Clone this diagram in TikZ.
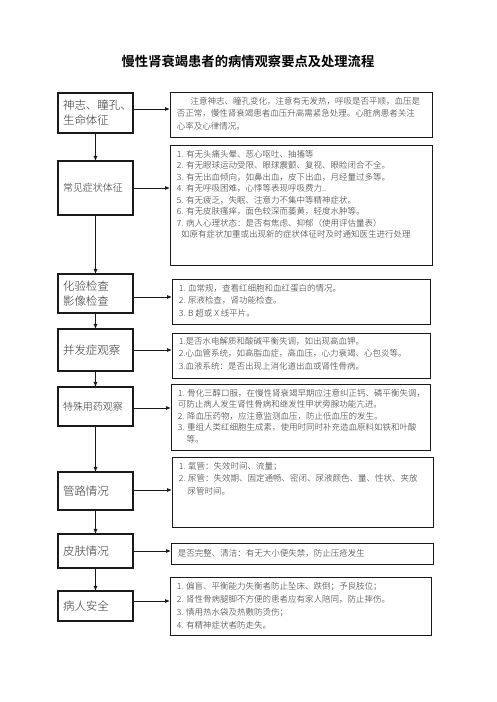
\documentclass[tikz,border=0pt]{standalone}
\usepackage{fontspec}
\setmainfont{Noto Sans CJK SC}[UprightFont=* Light, BoldFont=* Bold]
\usetikzlibrary{arrows.meta}
\definecolor{cline}{HTML}{1A1A1A}
\definecolor{ctext}{HTML}{333333}
\tikzset{
  every picture/.style={line width=0.8pt},
  stage/.style={draw=cline, line width=1.1pt, minimum width=75pt, text width=65pt, inner xsep=5pt, align=left, text=ctext, font=\fontsize{11.5}{15}\selectfont},
  detail/.style={draw=cline, line width=0.9pt},
  detailtext/.style={anchor=north west, inner sep=2pt, align=left, text=ctext, font=\fontsize{8.5}{12.5}\selectfont},
  arrow/.style={-{Triangle[length=4.5pt, width=3.5pt]}, draw=cline, line width=0.9pt},
  title/.style={font=\fontsize{13.3}{16}\selectfont\bfseries},
}

\begin{document}
\begin{tikzpicture}[x=1pt, y=-1pt]
  \useasboundingbox (0,0) rectangle (496,702);
  \node[title] (title) at (248,61) {慢性肾衰竭患者的病情观察要点及处理流程};
  % left column: observation items
  \node[stage, minimum height=40pt] (l1) at (95.5,113) {神志、瞳孔、\\生命体征};
  \node[stage, minimum height=54pt, font=\fontsize{10}{12}\selectfont] (l2) at (95.5,188) {常见症状体征};
  \node[stage, minimum height=39pt] (l3) at (95.5,293.5) {化验检查\\影像检查};
  \node[stage, minimum height=42pt] (l4) at (95.5,350) {并发症观察};
  \node[stage, minimum height=39pt, font=\fontsize{10}{12}\selectfont] (l5) at (95.5,406.5) {特殊用药观察};
  \node[stage, minimum height=38pt] (l6) at (95.5,491) {管路情况};
  \node[stage, minimum height=34pt] (l7) at (95.5,551) {皮肤情况};
  \node[stage, minimum height=30pt] (l8) at (95.5,606) {病人安全};
  % right column: what to watch
  \node[detail, minimum width=262pt, minimum height=45pt] (r1) at (301,114.5) {};
  \node[detail, minimum width=262pt, minimum height=120pt] (r2) at (301,205) {};
  \node[detail, minimum width=258pt, minimum height=45pt] (r3) at (301,301.5) {};
  \node[detail, minimum width=258pt, minimum height=45pt] (r4) at (301,355.5) {};
  \node[detail, minimum width=259pt, minimum height=66pt] (r5) at (300.5,417) {};
  \node[detail, minimum width=261pt, minimum height=70pt] (r6) at (302.5,492) {};
  \node[detail, minimum width=262pt, minimum height=21pt] (r7) at (302,553.5) {};
  \node[detail, minimum width=261pt, minimum height=58pt] (r8) at (300.5,606) {};
  \node[detailtext] (t1) at ([xshift=5pt, yshift=-3pt]r1.north west) {\hspace{1.6em}注意神志、瞳孔变化，注意有无发热，呼吸是否平顺，血压是\\
    否正常，慢性肾衰竭患者血压升高需紧急处理。心脏病患者关注\\
    心率及心律情况。};
  \node[detailtext, font=\fontsize{8.5}{11.5}\selectfont] (t2) at ([xshift=5pt, yshift=-3pt]r2.north west) {1. 有无头痛头晕、恶心呕吐、抽搐等\\
    2. 有无眼球运动受限、眼球震颤、复视、眼睑闭合不全。\\
    3. 有无出血倾向，如鼻出血，皮下出血，月经量过多等。\\
    4. 有无呼吸困难，心悸等表现呼吸费力..\\
    5. 有无疲乏，失眠、注意力不集中等精神症状。\\
    6. 有无皮肤瘙痒，面色较深而萎黄，轻度水肿等。\\
    7. 病人心理状态：是否有焦虑、抑郁（使用评估量表）\\
    \hspace{0.5em}如原有症状加重或出现新的症状体征时及时通知医生进行处理};
  \node[detailtext] (t3) at ([xshift=5pt, yshift=-3pt]r3.north west) {1. 血常规，查看红细胞和血红蛋白的情况。\\
    2. 尿液检查，肾功能检查。\\
    3. B 超或 X 线平片。};
  \node[detailtext] (t4) at ([xshift=5pt, yshift=-2pt]r4.north west) {1.是否水电解质和酸碱平衡失调，如出现高血钾。\\
    2.心血管系统，如高脂血症，高血压，心力衰竭、心包炎等。\\
    3.血液系统：是否出现上消化道出血或肾性骨病。};
  \node[detailtext, font=\fontsize{8.5}{11.5}\selectfont] (t5) at ([xshift=5pt, yshift=-3pt]r5.north west) {1. 骨化三醇口服，在慢性肾衰竭早期应注意纠正钙、磷平衡失调，\\
    可防止病人发生肾性骨病和继发性甲状旁腺功能亢进。\\
    2. 降血压药物，应注意监测血压，防止低血压的发生。\\
    3. 重组人类红细胞生成素，使用时同时补充造血原料如铁和叶酸\\
    \phantom{3.\ }等。};
  \node[detailtext] (t6) at ([xshift=5pt, yshift=-3pt]r6.north west) {1. 氧管：失效时间、流量；\\
    2. 尿管：失效期、固定通畅、密闭、尿液颜色、量、性状、夹放\\
    \phantom{2.\ }尿管时间。};
  \node[detailtext, anchor=west] (t7) at ([xshift=5pt]r7.west) {是否完整、清洁：有无大小便失禁，防止压疮发生};
  \node[detailtext, font=\fontsize{8.5}{13}\selectfont] (t8) at ([xshift=5pt, yshift=-3pt]r8.north west) {1. 偏盲、平衡能力失衡者防止坠床、跌倒；予良肢位；\\
    2. 肾性骨病腿脚不方便的患者应有家人陪同，防止摔伤。\\
    3. 慎用热水袋及热敷防烫伤；\\
    4. 有精神症状者防走失。};
  % flow down the left column
  \foreach \a/\b in {l1/l2, l2/l3, l3/l4, l4/l5, l5/l6, l6/l7, l7/l8}
    \draw[arrow] (\a.south) -- (\b.north);
  % each item to its notes
  \foreach \i/\dy in {1/4, 2/0, 3/-3.5, 4/0, 5/-1.5, 6/1, 7/0, 8/5} {
    \path ([yshift=\dy pt]l\i.east) coordinate (s\i);
    \draw[arrow] (s\i) -- (s\i -| r\i.west);
  }
\end{tikzpicture}
\end{document}
